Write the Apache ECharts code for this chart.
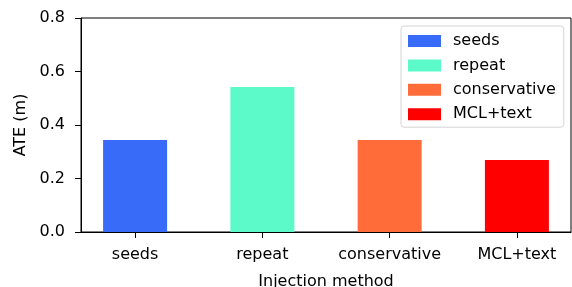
<!DOCTYPE html>
<html>
<head>
<meta charset="utf-8">
<script src="https://cdn.jsdelivr.net/npm/echarts@6/dist/echarts.min.js"></script>
<style>
  html, body { margin: 0; padding: 0; background: #fff; }
  #chart { width: 572px; height: 287px; }
</style>
</head>
<body>
<div id="chart"></div>
<script>
  // categories and measured ATE per injection method
  var categories = ['seeds', 'repeat', 'conservative', 'MCL+text']
  var ateValues = [0.344, 0.542, 0.344, 0.269]
  var barColors = ['#386cf8', '#5cfac8', '#ff6c3a', '#ff0000']
  var yTicks = [0.0, 0.2, 0.4, 0.6, 0.8]
  var xTicks = [0, 1, 2, 3]

  var font = 'DejaVu Sans'
  var chart = echarts.init(document.getElementById('chart'))

  var series = categories.map(function (name, i) {
    return {
      name: name,
      type: 'bar',
      stack: 'all',
      barWidth: 64,
      data: [[xTicks[i], ateValues[i]]],
      itemStyle: { color: barColors[i] }
    }
  })

  chart.setOption({
    animation: false,
    textStyle: { fontFamily: font },
    grid: {
      left: 81, top: 18, right: 1, bottom: 55,
      outerBoundsMode: 'none',
      containLabel: false,
      show: true, borderColor: '#000', borderWidth: 1
    },
    legend: {
      orient: 'vertical',
      left: 401, top: 26,
      padding: [7, 8, 5, 7],
      itemWidth: 33, itemHeight: 12, itemGap: 8.4,
      icon: 'rect',
      borderColor: '#d4d4d4', borderWidth: 1, borderRadius: 3,
      textStyle: { fontFamily: font, fontSize: 16, color: '#000', padding: [0, 0, 0, 7] }
    },
    xAxis: {
      type: 'value',
      min: -0.425, max: 3.425,
      name: 'Injection method',
      nameLocation: 'middle',
      nameGap: 42,
      nameTextStyle: { fontFamily: font, fontSize: 16, color: '#000' },
      axisLine: { onZero: false, lineStyle: { color: '#000' } },
      axisTick: { customValues: xTicks, length: 6, lineStyle: { color: '#000' } },
      axisLabel: {
        customValues: xTicks,
        margin: 15,
        fontFamily: font, fontSize: 16, color: '#000',
        formatter: function (v) { return categories[Math.round(v)] }
      },
      splitLine: { show: false }
    },
    yAxis: {
      type: 'value',
      min: 0, max: 0.8, interval: 0.2,
      name: 'ATE (m)',
      nameLocation: 'middle',
      nameGap: 52,
      nameTextStyle: { fontFamily: font, fontSize: 16, color: '#000' },
      axisLine: { show: true, onZero: false, lineStyle: { color: '#000' } },
      axisTick: { show: true, length: 6, lineStyle: { color: '#000' } },
      axisLabel: {
        margin: 16,
        fontFamily: font, fontSize: 16, color: '#000',
        formatter: function (v) { return v.toFixed(1) }
      },
      splitLine: { show: false }
    },
    series: series
  })
</script>
</body>
</html>
